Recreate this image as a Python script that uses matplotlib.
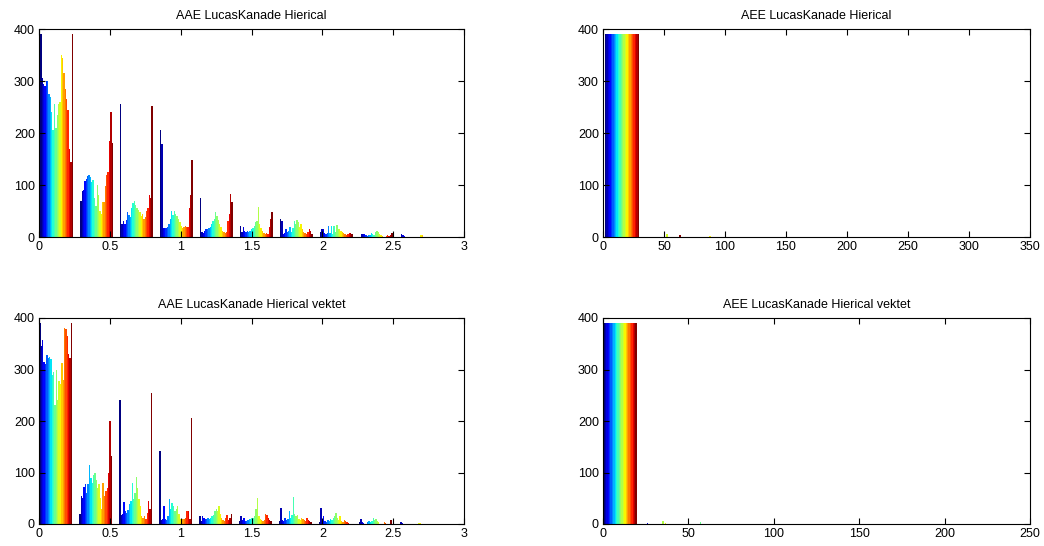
import numpy as np
import matplotlib
matplotlib.use("Agg")
import matplotlib.pyplot as plt

plt.rcParams['font.family'] = ['Liberation Sans', 'DejaVu Sans']
plt.rcParams['font.size'] = 9

# --- data: counts per bin (rows) for each of the 24 columns of the matrix hist ---
aae_centers = [0.124 + 0.282 * k for k in range(10)]
aae_vek_centers = [0.118 + 0.282 * k for k in range(10)]
aae_binw = 0.282

aae_hier = [
    [390, 305, 295, 290, 300, 300, 275, 270, 240, 205, 255, 210, 235, 255, 260, 350, 345, 315, 285, 265, 245, 170, 145, 390],
    [70, 88, 90, 108, 112, 118, 120, 115, 105, 110, 75, 60, 100, 80, 50, 45, 68, 68, 98, 120, 125, 185, 240, 180],
    [255, 25, 30, 25, 32, 48, 42, 38, 55, 65, 70, 62, 55, 52, 48, 40, 45, 35, 38, 50, 55, 80, 75, 252],
    [205, 178, 18, 18, 17, 20, 25, 35, 50, 42, 50, 45, 40, 35, 28, 22, 18, 20, 22, 20, 20, 55, 80, 148],
    [75, 10, 8, 12, 15, 15, 18, 20, 25, 30, 35, 48, 40, 32, 25, 20, 12, 10, 8, 10, 30, 45, 82, 68],
    [22, 10, 20, 12, 10, 12, 10, 12, 15, 18, 22, 28, 30, 58, 25, 18, 12, 8, 5, 8, 5, 20, 35, 48],
    [35, 30, 5, 8, 15, 10, 12, 20, 10, 18, 30, 25, 33, 28, 20, 25, 15, 10, 8, 5, 10, 15, 12, 5],
    [10, 15, 15, 8, 5, 8, 22, 8, 22, 6, 22, 10, 24, 15, 15, 12, 10, 8, 6, 4, 5, 8, 8, 6],
    [0, 5, 6, 5, 3, 2, 3, 4, 8, 5, 3, 10, 12, 10, 5, 3, 2, 0, 0, 2, 3, 2, 3, 8],
    [0, 6, 3, 1, 0, 0, 0, 0, 0, 0, 0, 0, 0, 0, 0, 3, 4, 0, 0, 0, 0, 0, 0, 0],
]

aae_vek = [
    [390, 345, 358, 315, 310, 328, 322, 325, 320, 290, 296, 232, 300, 240, 278, 272, 312, 280, 380, 378, 365, 330, 322, 390],
    [20, 55, 50, 72, 78, 60, 78, 115, 90, 80, 95, 100, 85, 70, 78, 50, 30, 80, 55, 65, 70, 100, 200, 133],
    [240, 18, 20, 42, 25, 22, 28, 38, 45, 80, 48, 60, 92, 70, 48, 35, 15, 12, 15, 10, 22, 45, 30, 255],
    [142, 8, 10, 35, 10, 8, 15, 48, 30, 40, 35, 25, 30, 35, 20, 10, 8, 10, 10, 12, 25, 25, 10, 205],
    [15, 5, 15, 12, 10, 10, 12, 10, 12, 15, 18, 25, 30, 25, 35, 20, 12, 8, 5, 12, 18, 8, 12, 20],
    [5, 15, 8, 12, 5, 5, 8, 10, 10, 12, 12, 15, 30, 50, 15, 10, 8, 5, 8, 20, 18, 12, 8, 5],
    [5, 32, 8, 5, 12, 8, 10, 25, 12, 18, 52, 20, 15, 18, 10, 8, 12, 10, 8, 5, 12, 8, 5, 3],
    [3, 32, 8, 15, 5, 3, 8, 5, 10, 8, 12, 15, 22, 12, 8, 15, 5, 3, 8, 5, 3, 2, 0, 0],
    [3, 10, 3, 2, 0, 0, 3, 5, 3, 5, 12, 8, 10, 5, 3, 0, 0, 0, 3, 2, 0, 0, 0, 8],
    [0, 3, 2, 0, 0, 0, 0, 0, 0, 0, 0, 0, 0, 0, 2, 2, 0, 0, 0, 0, 0, 0, 0, 0],
]

aee_binw = 34.0
aee_centers = [15.6 + 34.0 * k for k in range(10)]
aee_hier = [[390] * 24,
            [0] * 14 + [5] + [0] * 8 + [3],
            [0] * 15 + [2] + [0] * 8] + [[0] * 24 for _ in range(7)]

aee_vek_binw = 23.8
aee_vek_centers = [10.0 + 23.8 * k for k in range(10)]
aee_vek = [[390] * 24,
           [0, 0, 2] + [0] * 10 + [6, 0, 2] + [0] * 8,
           [0] * 11 + [4] + [0] * 12] + [[0] * 24 for _ in range(7)]

aae_ticks = [0, 0.5, 1, 1.5, 2, 2.5, 3]
aae_ticklabels = ['0', '0.5', '1', '1.5', '2', '2.5', '3']
aee_ticks = [0, 50, 100, 150, 200, 250, 300, 350]
aee_vek_ticks = [0, 50, 100, 150, 200, 250]
y_ticks = [0, 100, 200, 300, 400]

W, H = 1044, 546
fig = plt.figure(figsize=(W / 100, H / 100), dpi=100)


def axes_px(x0, y0, x1, y1):
    return fig.add_axes([x0 / W, 1 - y1 / H, (x1 - x0) / W, (y1 - y0) / H])


def draw_hist(ax, centers, counts, binw, title, xmax, xticks, xlabels):
    counts = np.array(counts, dtype=float)
    nb, nc = counts.shape
    colors = plt.cm.jet(np.linspace(0, 1, nc))
    gw = 0.82 * binw
    w = gw / nc
    for j in range(nc):
        x = np.array(centers) - gw / 2 + (j + 0.5) * w
        ax.bar(x, counts[:, j], width=w, color=colors[j], linewidth=0)
    ax.set_xlim(0, xmax)
    ax.set_ylim(0, 400)
    ax.set_xticks(xticks)
    ax.set_xticklabels(xlabels)
    ax.set_yticks(y_ticks)
    ax.tick_params(direction='in', top=True, right=True, length=4, width=0.8,
                   labelsize=9, pad=3)
    for s in ax.spines.values():
        s.set_linewidth(0.8)
    ax.set_title(title, fontsize=9, pad=7)


ax1 = axes_px(39, 29, 464, 237)
draw_hist(ax1, aae_centers, aae_hier, aae_binw, 'AAE LucasKanade Hierical',
          3, aae_ticks, aae_ticklabels)

ax2 = axes_px(603, 29, 1030, 237)
draw_hist(ax2, aee_centers, aee_hier, aee_binw, 'AEE LucasKanade Hierical',
          350, aee_ticks, [str(t) for t in aee_ticks])

ax3 = axes_px(39, 318, 464, 524)
draw_hist(ax3, aae_vek_centers, aae_vek, aae_binw, 'AAE LucasKanade Hierical vektet',
          3, aae_ticks, aae_ticklabels)

ax4 = axes_px(603, 318, 1030, 524)
draw_hist(ax4, aee_vek_centers, aee_vek, aee_vek_binw, 'AEE LucasKanade Hierical vektet',
          250, aee_vek_ticks, [str(t) for t in aee_vek_ticks])

fig.savefig('out.png', dpi=100)
